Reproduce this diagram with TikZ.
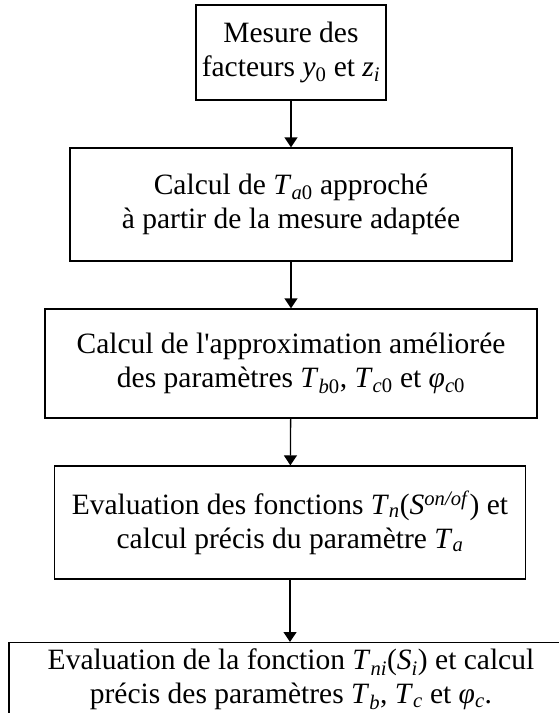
\documentclass[tikz,border=0pt]{standalone}
\usepackage{fontspec}
\setmainfont{Liberation Serif}
\usetikzlibrary{arrows.meta}
\newcommand{\vi}[1]{\textit{#1}}

\begin{document}
\begin{tikzpicture}[x=1pt,y=-1pt,>={Triangle[length=10pt,width=13pt]},
  etape/.style={draw,line width=1.3pt,align=center,inner sep=0pt,
    font=\fontsize{29.5}{34}\selectfont},
  fleche/.style={->,line width=1.3pt}]
\useasboundingbox (0,0) rectangle (558,713);
\node[etape,minimum width=190pt,minimum height=95pt] (mesure) at (291,52.5)
  {Mesure des\\facteurs \vi{y}\textsubscript{0} et \vi{z}\textsubscript{\vi{i}}};
\node[etape,minimum width=442pt,minimum height=113pt] (approche) at (291,204.5)
  {Calcul de \vi{T}\textsubscript{\vi{a}0} approché\\à partir de la mesure adaptée};
\node[etape,minimum width=492pt,minimum height=109pt] (amelior) at (291,363.5)
  {Calcul de l\textquotesingle approximation améliorée\\des paramètres \vi{T}\textsubscript{\vi{b}0}, \vi{T}\textsubscript{\vi{c}0} et \vi{φ}\textsubscript{\vi{c}0}};
\node[etape,minimum width=471pt,minimum height=113pt] (fonctions) at (290,522.5)
  {Evaluation des fonctions \vi{T}\textsubscript{\vi{n}}(\vi{S}\textsuperscript{\vi{on/of}}) et\\calcul précis du paramètre \vi{T}\textsubscript{\vi{a}}};
\node[etape,anchor=north,minimum width=564pt,minimum height=74pt] (finale) at (291,642)
  {Evaluation de la fonction \vi{T}\textsubscript{\vi{ni}}(\vi{S}\textsubscript{\vi{i}}) et calcul\\précis des paramètres \vi{T}\textsubscript{\vi{b}}, \vi{T}\textsubscript{\vi{c}} et \vi{φ}\textsubscript{\vi{c}}.};
\draw[fleche] (mesure) -- (approche);
\draw[fleche] (approche) -- (amelior);
\draw[fleche] (amelior) -- (fonctions);
\draw[fleche] (fonctions.south) -- (fonctions.south |- finale.north);
\end{tikzpicture}
\end{document}
